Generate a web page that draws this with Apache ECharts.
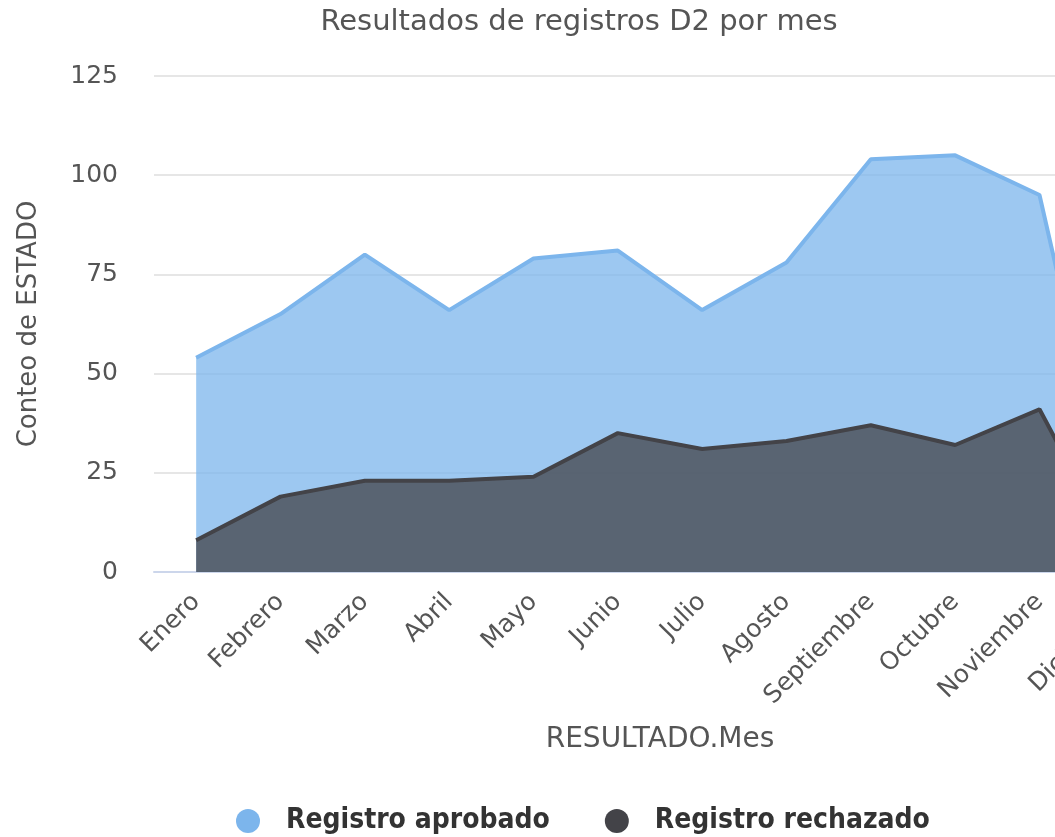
<!DOCTYPE html>
<html>
<head>
<meta charset="utf-8">
<script src="https://cdn.jsdelivr.net/npm/echarts@6/dist/echarts.min.js"></script>
<style>
  html, body { margin: 0; padding: 0; overflow: hidden; background: #fff; }
  #chart { width: 1170px; height: 837px; }
</style>
</head>
<body>
<div id="chart"></div>
<script>
// meses del eje x
const meses = ['Enero', 'Febrero', 'Marzo', 'Abril', 'Mayo', 'Junio', 'Julio',
  'Agosto', 'Septiembre', 'Octubre', 'Noviembre', 'Diciembre'];
// conteo por estado
const aprobado = [54, 65, 80, 66, 79, 81, 66, 78, 104, 105, 95, 2];
const rechazado = [8, 19, 23, 23, 24, 35, 31, 33, 37, 32, 41, 1];
const yTicks = [0, 25, 50, 75, 100, 125];

const font = '"DejaVu Sans", sans-serif';
const chart = echarts.init(document.getElementById('chart'));

chart.setOption({
  animation: false,
  color: ['#7cb5ec', '#434348'],
  title: {
    text: 'Resultados de registros D2 por mes',
    left: 574,
    top: 3,
    textAlign: 'center',
    textStyle: { fontFamily: font, fontSize: 29, fontWeight: 'normal', color: '#555' },
  },
  legend: {
    bottom: -3,
    left: 231,
    orient: 'horizontal',
    itemGap: 55,
    itemWidth: 24,
    itemHeight: 24,
    icon: 'circle',
    textStyle: {
      fontFamily: '"DejaVu Sans Condensed", "DejaVu Sans", sans-serif',
      fontSize: 28,
      fontWeight: 'bold',
      color: '#333',
      padding: [0, 0, 0, 21],
    },
    data: ['Registro aprobado', 'Registro rechazado'],
  },
  grid: {
    left: 154,
    right: 4,
    top: 76,
    bottom: 265,
  },
  xAxis: {
    type: 'category',
    data: meses,
    boundaryGap: true,
    name: 'RESULTADO.Mes',
    nameLocation: 'middle',
    nameGap: 154,
    nameTextStyle: { fontFamily: font, fontSize: 28, color: '#555' },
    axisLine: { lineStyle: { color: '#ccd6eb', width: 2 } },
    axisTick: { show: false },
    axisLabel: {
      rotate: 45,
      margin: 26,
      interval: 0,
      fontFamily: font,
      fontSize: 25,
      color: '#555',
    },
  },
  yAxis: {
    type: 'value',
    min: yTicks[0],
    max: yTicks[yTicks.length - 1],
    interval: 25,
    name: 'Conteo de ESTADO',
    nameLocation: 'middle',
    nameGap: 112,
    nameTextStyle: { fontFamily: font, fontSize: 26, color: '#555' },
    axisLine: { show: false },
    axisTick: { show: false },
    splitLine: { lineStyle: { color: '#e6e6e6', width: 2 } },
    axisLabel: { margin: 36, fontFamily: font, fontSize: 25, color: '#555' },
  },
  series: [
    {
      name: 'Registro aprobado',
      type: 'line',
      data: aprobado,
      symbol: 'none',
      lineStyle: { width: 4, color: '#7cb5ec' },
      areaStyle: { color: '#7cb5ec', opacity: 0.75 },
    },
    {
      name: 'Registro rechazado',
      type: 'line',
      data: rechazado,
      symbol: 'none',
      lineStyle: { width: 4, color: '#434348' },
      areaStyle: { color: '#434348', opacity: 0.75 },
    },
  ],
});
</script>
</body>
</html>
